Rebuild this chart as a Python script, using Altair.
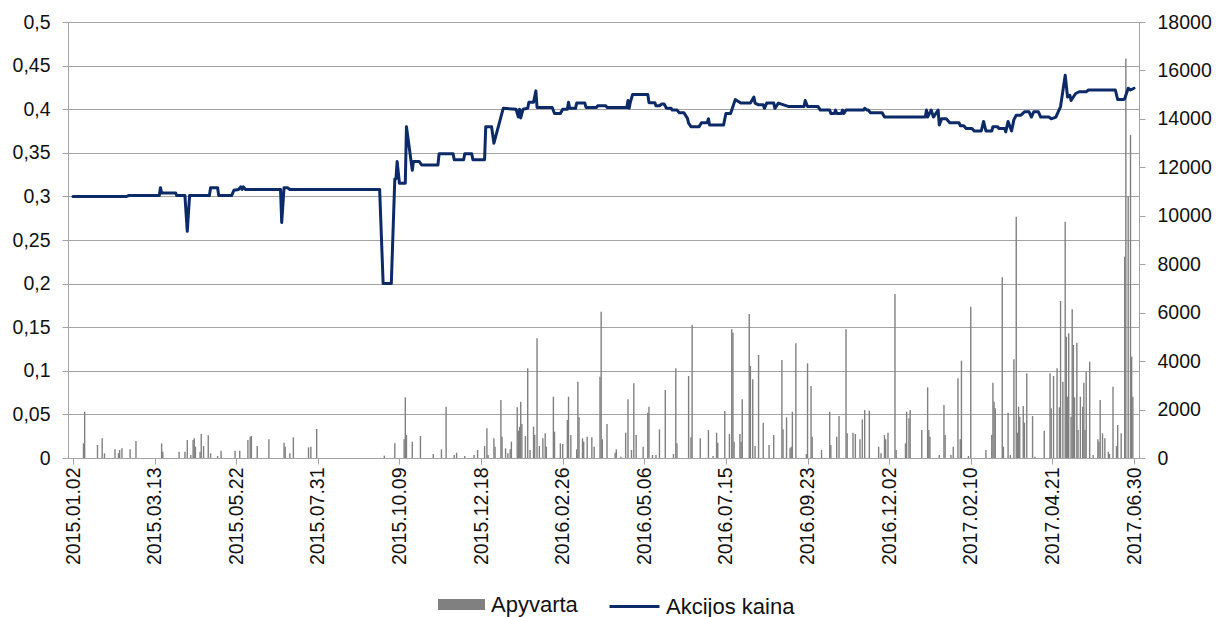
import altair as alt
import pandas as pd

# Base date; day offsets below are calendar days counted from it
BASE_DATE = "2015-01-02"

# Share price (Akcijos kaina): vertices
price_day = [0, 46, 48, 74, 75, 76, 88, 89, 96, 98, 100, 117, 118, 124, 125, 136, 138, 142, 144, 145, 146, 148,
             178, 179, 181, 184, 186, 263, 266, 273, 276, 277, 278, 280, 285, 286, 291, 292, 297, 299, 313, 314,
             326, 327, 335, 336, 342, 343, 353, 354, 359, 361, 369, 380, 382, 383, 384, 386, 390, 391, 395, 397,
             398, 411, 413, 418, 420, 424, 425, 426, 431, 432, 439, 440, 449, 450, 457, 458, 475, 476, 477, 478,
             480, 493, 494, 499, 500, 503, 505, 507, 509, 513, 514, 518, 520, 524, 527, 528, 530, 537, 539, 544,
             545, 546, 558, 560, 564, 568, 571, 573, 581, 584, 585, 588, 592, 593, 595, 601, 602, 605, 614, 627,
             628, 630, 639, 641, 649, 650, 653, 654, 655, 659, 660, 661, 663, 678, 679, 681, 682, 684, 694, 696,
             731, 732, 733, 736, 738, 742, 743, 745, 749, 752, 760, 761, 764, 766, 771, 773, 779, 781, 783, 788,
             789, 793, 794, 799, 800, 802, 805, 807, 809, 813, 816, 820, 822, 824, 828, 830, 837, 839, 843, 845,
             847, 851, 853, 855, 856, 860, 863, 869, 871, 894, 896, 901, 902, 905, 907, 910]
price_val = [0.300, 0.300, 0.301, 0.301, 0.310, 0.304, 0.304, 0.301, 0.301, 0.260, 0.301, 0.301, 0.310, 0.310,
             0.301, 0.301, 0.307, 0.308, 0.311, 0.308, 0.311, 0.308, 0.308, 0.270, 0.310, 0.310, 0.308, 0.308,
             0.200, 0.200, 0.320, 0.320, 0.340, 0.315, 0.315, 0.380, 0.330, 0.340, 0.340, 0.336, 0.336, 0.349,
             0.349, 0.342, 0.342, 0.349, 0.349, 0.342, 0.342, 0.380, 0.380, 0.361, 0.401, 0.400, 0.391, 0.400,
             0.390, 0.400, 0.401, 0.408, 0.408, 0.421, 0.402, 0.402, 0.395, 0.395, 0.400, 0.400, 0.408, 0.401,
             0.401, 0.407, 0.407, 0.402, 0.402, 0.404, 0.404, 0.402, 0.402, 0.410, 0.401, 0.408, 0.417, 0.417,
             0.4075, 0.4075, 0.404, 0.404, 0.406, 0.406, 0.401, 0.401, 0.399, 0.399, 0.396, 0.396, 0.3895, 0.384,
             0.380, 0.380, 0.3845, 0.3845, 0.389, 0.382, 0.382, 0.395, 0.395, 0.411, 0.4086, 0.407, 0.407, 0.414,
             0.407, 0.405, 0.405, 0.401, 0.407, 0.407, 0.401, 0.407, 0.403, 0.403, 0.410, 0.403, 0.403, 0.399,
             0.399, 0.395, 0.395, 0.399, 0.395, 0.395, 0.399, 0.395, 0.399, 0.399, 0.401, 0.399, 0.399, 0.396,
             0.396, 0.391, 0.391, 0.399, 0.391, 0.399, 0.391, 0.399, 0.382, 0.389, 0.389, 0.3845, 0.3845, 0.381,
             0.381, 0.378, 0.378, 0.375, 0.375, 0.386, 0.375, 0.375, 0.380, 0.380, 0.378, 0.378, 0.374, 0.386,
             0.375, 0.388, 0.393, 0.393, 0.397, 0.397, 0.391, 0.397, 0.397, 0.391, 0.391, 0.389, 0.391, 0.397,
             0.403, 0.439, 0.414, 0.416, 0.410, 0.418, 0.420, 0.420, 0.422, 0.422, 0.411, 0.411, 0.412, 0.424,
             0.422, 0.424]

# Turnover (Apyvarta): day offsets and values
turn_day = [9, 10, 21, 25, 27, 36, 39, 40, 42, 49, 54, 76, 77, 91, 96, 98, 101, 103, 104, 105, 109, 110, 112, 116,
            118, 124, 127, 139, 143, 150, 152, 153, 158, 168, 181, 182, 186, 189, 202, 204, 209, 267, 276, 284,
            285, 286, 291, 298, 309, 316, 320, 327, 329, 336, 344, 347, 353, 355, 356, 361, 362, 367, 368, 371,
            373, 375, 376, 381, 382, 383, 384, 385, 388, 390, 392, 395, 396, 398, 400, 403, 405, 406, 412, 413,
            418, 420, 424, 425, 427, 432, 433, 434, 437, 438, 441, 445, 447, 452, 453, 454, 458, 465, 466, 470,
            474, 476, 479, 481, 483, 489, 493, 494, 497, 500, 503, 508, 515, 517, 518, 528, 530, 531, 538, 545,
            549, 552, 553, 559, 563, 565, 566, 567, 572, 573, 574, 580, 581, 583, 585, 588, 592, 597, 601, 608,
            609, 612, 615, 616, 617, 620, 629, 630, 633, 634, 642, 649, 650, 655, 657, 663, 664, 669, 671, 675,
            677, 679, 683, 691, 693, 696, 697, 699, 705, 706, 714, 715, 717, 718, 728, 733, 734, 735, 743, 747,
            748, 753, 755, 759, 761, 762, 768, 770, 783, 788, 789, 790, 791, 797, 798, 802, 804, 807, 809, 810,
            811, 812, 815, 816, 818, 823, 825, 833, 838, 839, 841, 844, 846, 847, 849, 851, 852, 853, 854, 856,
            857, 858, 859, 861, 862, 864, 866, 867, 868, 869, 872, 875, 879, 880, 881, 883, 885, 888, 889, 892,
            895, 896, 899, 902, 903, 905, 907, 908, 909]
turn_val = [605, 1911, 537, 812, 193, 358, 193, 330, 399, 358, 702, 605, 261, 261, 261, 743, 124, 743, 812, 468,
            261, 991, 495, 936, 193, 83, 303, 303, 303, 743, 881, 908, 495, 771, 633, 468, 193, 853, 440, 468,
            1197, 96, 605, 771, 2504, 949, 674, 908, 165, 358, 2119, 124, 220, 83, 124, 330, 495, 1225, 124, 812,
            468, 2394, 881, 399, 193, 358, 674, 2092, 1128, 1293, 2325, 1403, 908, 3701, 330, 1293, 949, 4940,
            495, 812, 1018, 468, 2532, 1087, 605, 578, 1569, 2532, 949, 358, 3151, 1679, 812, 674, 881, 853, 468,
            3357, 6041, 771, 1403, 220, 358, 55, 1046, 2422, 330, 3082, 949, 468, 1871, 2119, 124, 124, 1183,
            2807, 165, 3701, 605, 3385, 853, 5490, 812, 1156, 83, 1046, 633, 1940, 991, 5311, 5174, 674, 991, 674,
            2422, 5944, 3798, 3247, 495, 4252, 1459, 537, 949, 4045, 1183, 1679, 399, 468, 1913, 4733, 165, 3908,
            2972, 881, 330, 1913, 537, 881, 1734, 5311, 1018, 1046, 991, 771, 1596, 1981, 1954, 468, 193, 949,
            771, 1046, 6770, 330, 605, 1913, 1637, 1981, 1156, 2917, 1156, 881, 124, 2188, 949, 124, 468, 3289,
            771, 4018, 83, 6247, 330, 949, 3110, 2325, 2050, 7458, 468, 1871, 124, 4073, 9962, 1046, 2119, 1706,
            2147, 1459, 3495, 1734, 55, 1128, 3495, 2050, 3385, 3701, 2092, 6481, 3151, 9756, 5009, 2532, 5146,
            1706, 6137, 4665, 2504, 4761, 1156, 2532, 2119, 3110, 1156, 3564, 3977, 124, 771, 674, 2394, 1018,
            812, 261, 165, 2945, 495, 1362, 1018, 8311, 16498, 10788, 13333, 4183, 2532]

# Axis tick labels
tick_dates = ["2015-01-02", "2015-03-13", "2015-05-22", "2015-07-31", "2015-10-09", "2015-12-18",
              "2016-02-26", "2016-05-06", "2016-07-15", "2016-09-23", "2016-12-02", "2017-02-10",
              "2017-04-21", "2017-06-30"]
price_ticks = [0, 0.05, 0.1, 0.15, 0.2, 0.25, 0.3, 0.35, 0.4, 0.45, 0.5]
turn_ticks = [0, 2000, 4000, 6000, 8000, 10000, 12000, 14000, 16000, 18000]

base = pd.Timestamp(BASE_DATE)
price_df = pd.DataFrame({
    "date": [(base + pd.Timedelta(days=d)).strftime("%Y-%m-%d") for d in price_day],
    "price": price_val,
    "series": "Akcijos kaina",
})
turn_df = pd.DataFrame({
    "date": [(base + pd.Timedelta(days=d)).strftime("%Y-%m-%d") for d in turn_day],
    "turnover": turn_val,
    "series": "Apyvarta",
})


def dt(s):
    y, m, d = (int(p) for p in s.split("-"))
    return alt.DateTime(year=y, month=m, date=d, utc=True)


FONT = "Liberation Sans"
GRID = "#a3a3a3"
NAVY = "#0c2a68"
BAR = "#808080"

x_enc = alt.X(
    "date:T",
    title=None,
    scale=alt.Scale(type="utc", domain=[dt(tick_dates[0]), dt(tick_dates[-1])], nice=False),
    axis=alt.Axis(values=[dt(s) for s in tick_dates], format="%Y.%m.%d", labelAngle=270,
                  labelFlush=False, labelOverlap=False, grid=False, tickSize=6,
                  labelPadding=3, domainColor=GRID, tickColor=GRID),
)

bars = alt.Chart(turn_df).mark_bar(size=1.4).encode(
    x=x_enc,
    y=alt.Y("turnover:Q", title=None,
            scale=alt.Scale(domain=[0, 18000], nice=False),
            axis=alt.Axis(orient="right", values=turn_ticks, format="d", grid=False,
                          tickSize=6, labelPadding=12, domainColor=GRID, tickColor=GRID)),
    color=alt.Color("series:N", scale=alt.Scale(range=[BAR]),
                    legend=alt.Legend(title=None, orient="none", legendX=370, legendY=559,
                                      symbolType="M-1,-0.234L1,-0.234L1,0.234L-1,0.234Z",
                                      symbolSize=2209, symbolStrokeWidth=0, labelOffset=6,
                                      padding=0)),
)

line = alt.Chart(price_df).mark_line(strokeWidth=3, strokeJoin="round", strokeCap="round").encode(
    x=x_enc,
    y=alt.Y("price:Q", title=None,
            scale=alt.Scale(domain=[0, 0.5], nice=False),
            axis=alt.Axis(orient="left", values=price_ticks,
                          labelExpr="replace(format(datum.value, '.2~f'), '.', ',')",
                          grid=True, gridColor=GRID, tickSize=6, labelPadding=12,
                          domainColor=GRID, tickColor=GRID)),
    stroke=alt.Stroke("series:N", scale=alt.Scale(range=[NAVY]),
                      legend=alt.Legend(title=None, orient="none", legendX=540, legendY=558,
                                        symbolType="stroke", symbolSize=2500, symbolStrokeWidth=3,
                                        labelOffset=5, padding=0)),
)

chart = (
    alt.layer(bars, line)
    .resolve_scale(y="independent")
    .properties(width=1071, height=436,
                padding={"left": 60, "top": 14, "right": 80, "bottom": 170},
                autosize=alt.AutoSizeParams(type="none"))
    .configure_view(stroke=None)
    .configure_axis(labelFont=FONT, labelFontSize=19.5, labelColor="#111111", gridWidth=1)
    .configure_legend(labelFont=FONT, labelFontSize=22, labelColor="#111111")
)

chart.save("out.html", embed_options={"renderer": "svg", "actions": False})
